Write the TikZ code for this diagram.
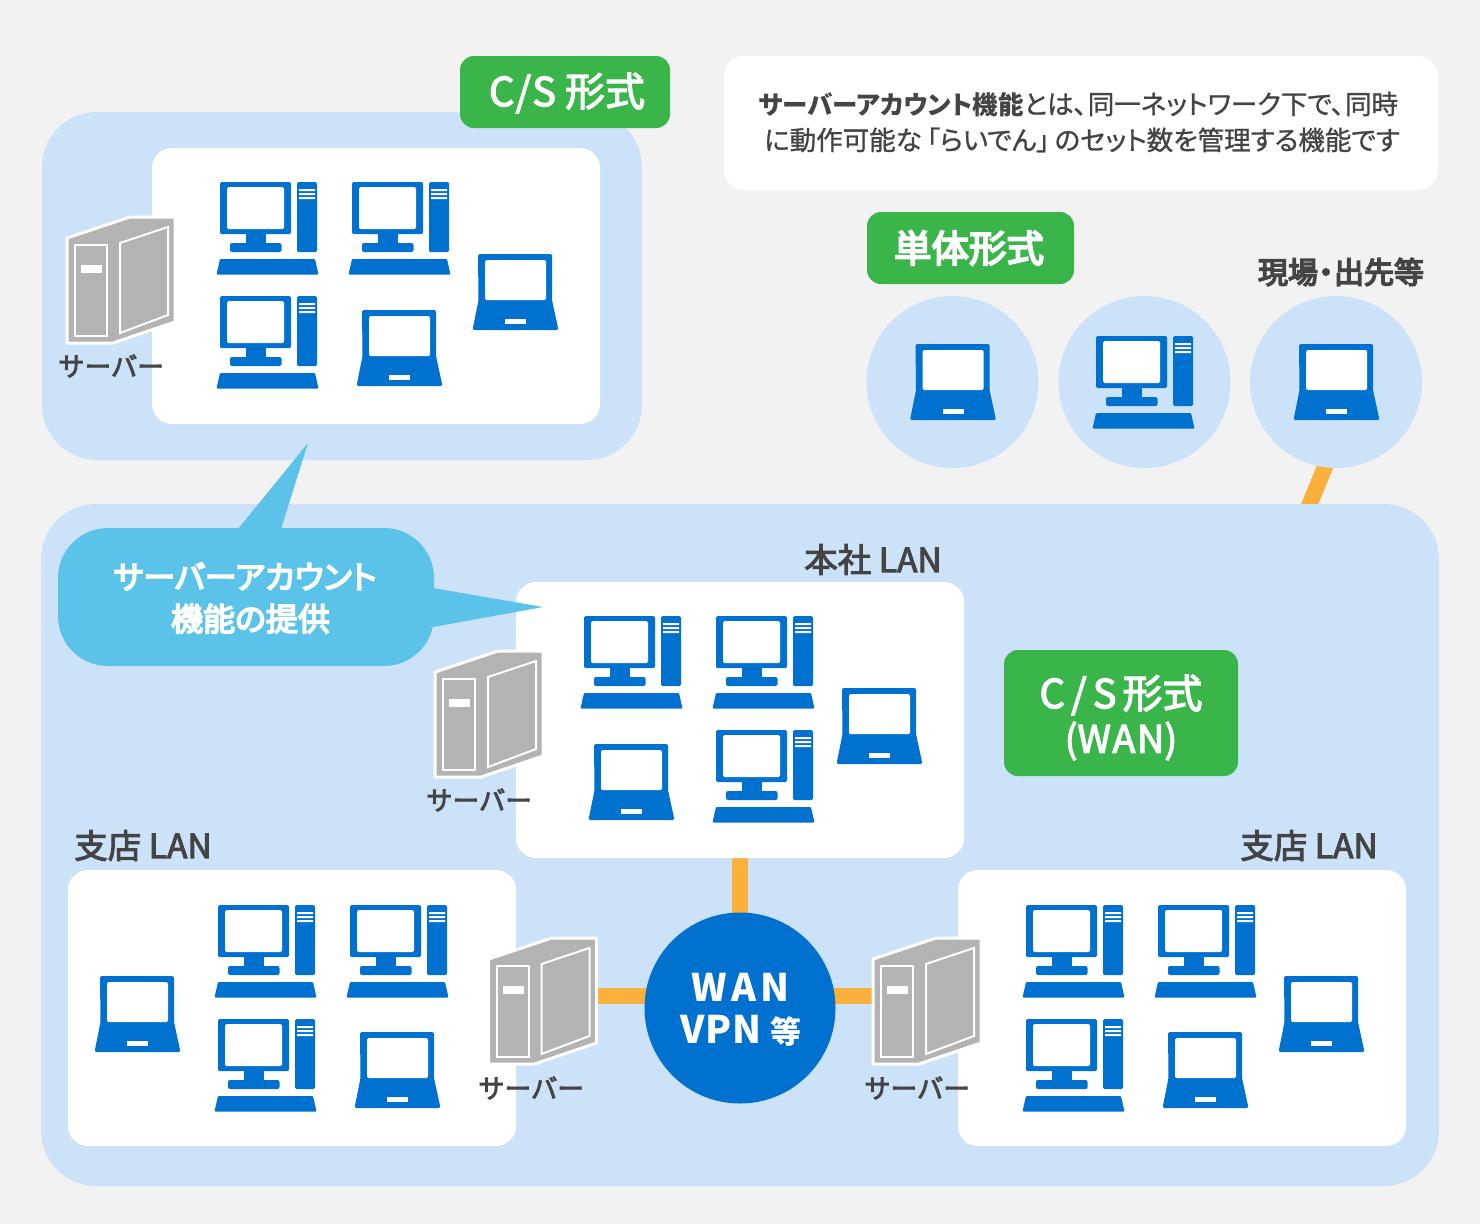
\documentclass[tikz,border=0pt]{standalone}
\usepackage{fontspec}
\setmainfont{Noto Sans CJK JP}[RawFeature={embolden=3.0}]
\setsansfont{Noto Sans CJK JP}[RawFeature={+palt}]
\newfontfamily\pfont{Noto Sans CJK JP}[RawFeature={+palt;embolden=1.0}]
\newfontfamily\hfont{Noto Sans CJK JP}[RawFeature={+palt;embolden=5.0}]
\newfontfamily\hnfont{Noto Sans CJK JP}[RawFeature={embolden=5.0}]
\definecolor{pagebg}{HTML}{F2F2F2}
\definecolor{lightblue}{HTML}{CBE2F8}
\definecolor{iconblue}{HTML}{0071CE}
\definecolor{greenlab}{HTML}{39B54A}
\definecolor{callout}{HTML}{5BC3E9}
\definecolor{orangeln}{HTML}{FBB03B}
\definecolor{servergray}{HTML}{B3B3B3}
\definecolor{darktext}{HTML}{444444}
\pgfdeclarelayer{backlayer}
\pgfdeclarelayer{connlayer}
\pgfsetlayers{backlayer,connlayer,main}
\newcommand{\fs}[1]{\fontsize{#1}{#1}\selectfont}
\tikzset{
  x=1pt,y=-1pt,
  box/.style={anchor=north west,inner sep=0pt,outer sep=0pt,minimum width=#1},
  whitepanel/.style={fill=white,rounded corners=20pt},
  bluepanel/.style={fill=lightblue,rounded corners=55pt},
  greenlabel/.style={fill=greenlab,rounded corners=14pt},
  link/.style={draw=orangeln,line width=16pt},
  txt/.style={text=darktext,inner sep=0pt},
  srvlabel/.style={txt,font=\fs{26.5}},
  lanlabel/.style={txt,font=\fs{33.5}},
  roundc/.style={circle,fill=lightblue,minimum size=172pt,inner sep=0pt},
  desktop/.pic={
    \fill[iconblue,rounded corners=1.5pt] (3,0) rectangle (74,52);
    \fill[white,rounded corners=1.5pt] (10,5) rectangle (67,47);
    \fill[iconblue] (28.5,51) rectangle (49,62);
    \fill[iconblue,rounded corners=2pt] (13,61) rectangle (64.5,70);
    \fill[iconblue,rounded corners=1.5pt] (80,0) rectangle (100,70);
    \fill[white] (82,7) rectangle (98,9) (82,11) rectangle (98,13) (82,15) rectangle (98,17);
    \fill[iconblue,rounded corners=1pt] (3,77) -- (98,77) -- (101.5,92.5) -- (-0.5,92.5) -- cycle;
  },
  laptop/.pic={
    \fill[iconblue,rounded corners=1.5pt] (5,0) -- (79,0) -- (79,46) -- (85.5,76) -- (-0.5,76) -- (5.5,46) -- cycle;
    \fill[white,rounded corners=1.5pt] (12,6) rectangle (73,46);
    \fill[white] (32,65) rectangle (53,70);
  },
  server/.pic={
    \fill[servergray,draw=white,line width=3pt,line join=round] (0,21) -- (63,0) -- (108,0) -- (108,105) -- (46,126) -- (0,126) -- cycle;
    \draw[white,line width=2pt] (8,28) rectangle (40,119);
    \fill[white] (14,48) rectangle (35,56);
    \draw[white,line width=2pt] (53,26) -- (101,10) -- (101,98) -- (53,116) -- cycle;
  },
}
\begin{document}
\begin{tikzpicture}
\coordinate (fieldtop) at (1329,457);
\coordinate (fieldbot) at (1306,513);
\begin{pgfonlayer}{backlayer}
\fill[pagebg] (0,0) rectangle (1480,1224);
\useasboundingbox (0,0) rectangle (1480,1224);
\fill[bluepanel] (42,112) rectangle (642,460);
\draw[link] (fieldtop) -- (fieldbot);
\fill[bluepanel] (41,504) rectangle (1439,1186);
\end{pgfonlayer}

% panels as nodes
\node[box=448pt,minimum height=276pt,whitepanel] (csbox) at (152,148) {};
\node[box=448pt,minimum height=276pt,whitepanel] (hq) at (516,582) {};
\node[box=448pt,minimum height=276pt,whitepanel] (brL) at (68,870) {};
\node[box=448pt,minimum height=276pt,whitepanel] (brR) at (958,870) {};
\node[box=714pt,minimum height=134pt,whitepanel] (info) at (724,56) {};
\node[box=210pt,minimum height=72pt,greenlabel] (gcs) at (460,56) {};
\node[box=207pt,minimum height=72pt,greenlabel] (gsolo) at (867,212) {};
\node[box=234pt,minimum height=126pt,greenlabel] (gwan) at (1004,650) {};

\node[roundc] (c1) at (952.5,382) {};
\node[roundc] (c2) at (1144.5,382) {};
\node[roundc] (c3) at (1336,382) {};
\node[circle,fill=iconblue,minimum size=191pt,inner sep=0pt] (wan) at (740,1008) {};

% connectors
\coordinate (srvLp) at (560,996);
\coordinate (srvRp) at (920,996);
\coordinate (wanL) at (660,996);
\coordinate (wanR) at (820,996);
\coordinate (wanT) at (740,930);
\coordinate (hqB) at (740,850);
\begin{pgfonlayer}{connlayer}
\draw[link] (hqB) -- (wanT);
\draw[link] (srvLp) -- (wanL);
\draw[link] (srvRp) -- (wanR);
\end{pgfonlayer}

% callout
\fill[callout,rounded corners=50pt] (58,528) rectangle (434,666);
\fill[callout] (238,529) -- (308,443) -- (281,529) -- cycle;
\fill[callout] (433,588) -- (543,607) -- (433,627) -- cycle;

% icons
\foreach \p in {(217,182),(349,182),(217,296),(1093,336),(581,616),(713,616),(713,730),(215,905),(347,905),(215,1019),(1023,905),(1155,905),(1023,1019)}
  \pic at \p {desktop};
\foreach \p in {(473,254),(357,310),(910.5,344),(1294,344),(837,688),(589,744),(95,976),(355,1032),(1279,976),(1163,1032)}
  \pic at \p {laptop};
\foreach \p in {(67,217),(435,651),(488.5,938),(873,938)}
  \pic at \p {server};

% texts
\node[text=white,inner sep=0pt,font=\fs{40}] (tcs) at (567,93) {C\kern1pt/\kern1pt S\ 形式};
\node[text=white,inner sep=0pt,font=\fs{37.5}\hnfont] (tsolo) at (969,248) {単体形式};
\node[text=white,inner sep=0pt,font=\fs{40}] (twan) at (1121,695) {C\kern6pt/\kern6pt S\kern-3pt\ 形式};
\node[text=white,inner sep=0pt,font=\fs{38}] (twan2) at (1121,741) {(W\kern1.5pt A\kern1.5pt N)};
\node[txt,font=\fs{26.5}\pfont,align=center] (tinfo) at (1080,122) {{\fs{25.5}\bfseries\sffamily サーバーアカウント機能}とは、\kern1pt 同一ネットワーク下で、\kern1pt 同時\kern3pt\\[9.5pt]\kern4pt に動作可能な\kern5pt「らいでん」\kern5pt のセット数を管理する機能です};
\node[txt,font=\fs{30}\hnfont] (tfield) at (1341,272) {現場\kern-7pt・\kern-7pt 出先等};
\node[srvlabel] (s1) at (111,366) {サーバー};
\node[srvlabel] (s2) at (479,800) {サーバー};
\node[srvlabel] (s3) at (531,1088) {サーバー};
\node[srvlabel] (s4) at (917,1088) {サーバー};
\node[lanlabel] (l1) at (873,559.5) {本社 LAN};
\node[lanlabel] (l2) at (143,845.5) {支店 LAN};
\node[lanlabel] (l3) at (1309,845.5) {支店 LAN};
\node[text=white,inner sep=0pt,font=\fs{32}\hfont,align=center] (tcall) at (245,598) {サーバーアカウント\\[10pt]\kern11pt 機能の提供};
\node[text=white,inner sep=0pt,font=\fs{38}\bfseries\sffamily] (twa) at (740.5,987) {W\kern4pt A\kern4pt N};
\node[text=white,inner sep=0pt,font=\fs{38}\bfseries\sffamily] (tvp) at (741,1031) {V\kern1pt P\kern1pt N\kern9pt{\fs{31}等}};
\end{tikzpicture}
\end{document}
